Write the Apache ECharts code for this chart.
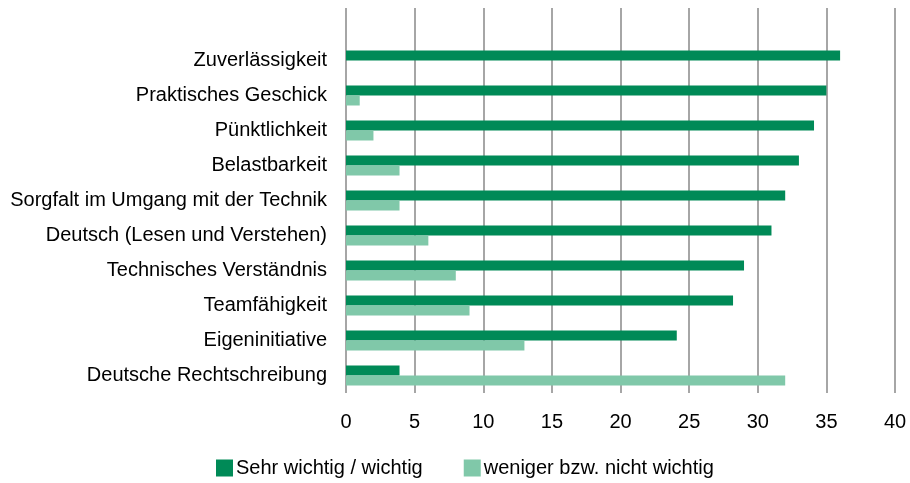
<!DOCTYPE html>
<html>
<head>
<meta charset="utf-8">
<script src="https://cdn.jsdelivr.net/npm/echarts@6/dist/echarts.min.js"></script>
<style>
  html, body { margin: 0; padding: 0; background: #fff; }
  #chart { width: 910px; height: 483px; }
</style>
</head>
<body>
<div id="chart"></div>
<script>
// top row is an empty slot: the gridlines in the source run above the first bar
const categories = [
  '',
  'Zuverlässigkeit',
  'Praktisches Geschick',
  'Pünktlichkeit',
  'Belastbarkeit',
  'Sorgfalt im Umgang mit der Technik',
  'Deutsch (Lesen und Verstehen)',
  'Technisches Verständnis',
  'Teamfähigkeit',
  'Eigeninitiative',
  'Deutsche Rechtschreibung',
];
const wichtig = [null, 36, 35, 34.1, 33, 32, 31, 29, 28.2, 24.1, 3.9];
const wenigerWichtig = [null, 0, 1, 2, 3.9, 3.9, 6, 8, 9, 13, 32];
const seriesNames = ['Sehr wichtig / wichtig', 'weniger bzw. nicht wichtig'];

const font = 'Liberation Sans, Arial, sans-serif';
const chart = echarts.init(document.getElementById('chart'));

chart.setOption({
  animation: false,
  grid: { left: 346, right: 15, top: 8, bottom: 90 },
  legend: {
    left: 211,
    top: 453,
    itemWidth: 17,
    itemHeight: 17,
    itemGap: 41,
    icon: 'rect',
    textStyle: { fontFamily: font, fontSize: 20, color: '#000', padding: [0, 0, 0, -2] },
    data: seriesNames,
  },
  xAxis: {
    type: 'value',
    min: 0,
    max: 40,
    interval: 5,
    axisLine: { show: false },
    axisTick: { show: false },
    axisLabel: { fontFamily: font, fontSize: 20, color: '#000', margin: 19 },
    splitLine: { lineStyle: { color: '#a6a6a6', width: 2 } },
  },
  yAxis: {
    type: 'category',
    inverse: true,
    data: categories,
    axisLine: { show: false },
    axisTick: { show: false },
    axisLabel: { fontFamily: font, fontSize: 20, color: '#000', margin: 19 },
  },
  series: [
    {
      name: seriesNames[0],
      type: 'bar',
      data: wichtig,
      barWidth: 10,
      barGap: '0%',
      itemStyle: { color: '#008a57' },
    },
    {
      name: seriesNames[1],
      type: 'bar',
      data: wenigerWichtig,
      barWidth: 10,
      itemStyle: { color: '#80c8a9' },
    },
  ],
});
</script>
</body>
</html>
